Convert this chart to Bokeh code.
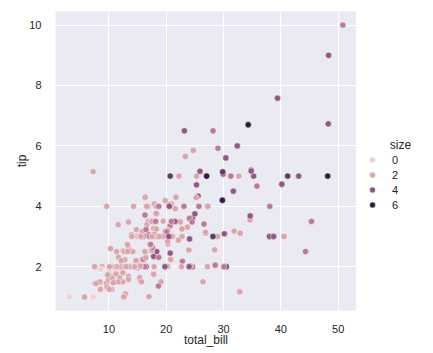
import numpy as np
from bokeh.plotting import figure
from bokeh.layouts import row
from bokeh.models import ColumnDataSource, Range1d, Legend, LegendItem, FixedTicker, Label
from bokeh.transform import linear_cmap
from bokeh.embed import file_html
from bokeh.resources import INLINE

total_bill = [16.99,10.34,21.01,23.68,24.59,25.29,8.77,26.88,15.04,14.78,10.27,35.26,15.42,18.43,14.83,21.58,10.33,16.29,16.97,20.65,
17.92,20.29,15.77,39.42,19.82,17.81,13.37,12.69,21.7,19.65,9.55,18.35,15.06,20.69,17.78,24.06,16.31,16.93,18.69,31.27,
16.04,17.46,13.94,9.68,30.4,18.29,22.23,32.4,28.55,18.04,12.54,10.29,34.81,9.94,25.56,19.49,38.01,26.41,11.24,48.27,
20.29,13.81,11.02,18.29,17.59,20.08,16.45,3.07,20.23,15.01,12.02,17.07,26.86,25.28,14.73,10.51,17.92,27.2,22.76,17.29,
19.44,16.66,10.07,32.68,15.98,34.83,13.03,18.28,24.71,21.16,28.97,22.49,5.75,16.32,22.75,40.17,27.28,12.03,21.01,12.46,
11.35,15.38,44.3,22.42,20.92,15.36,20.49,25.21,18.24,14.31,14.0,7.25,38.07,23.95,25.71,17.31,29.93,10.65,12.43,24.08,
11.69,13.42,14.26,15.95,12.48,29.8,8.52,14.52,11.38,22.82,19.08,20.27,11.17,12.26,18.26,8.51,10.33,14.15,16.0,13.16,
17.47,34.3,41.19,27.05,16.43,8.35,18.64,11.87,9.78,7.51,14.07,13.13,17.26,24.55,19.77,29.85,48.17,25.0,13.39,16.49,
21.5,12.66,16.21,13.81,17.51,24.52,20.76,31.71,10.59,10.63,50.81,15.81,7.25,31.85,16.82,32.9,17.89,14.48,9.6,34.63,
34.65,23.33,45.35,23.17,40.55,20.69,20.9,30.46,18.15,23.1,15.69,19.81,28.44,15.48,16.58,7.56,10.34,43.11,13.0,13.51,
18.71,12.74,13.0,16.4,20.53,16.47,26.59,38.73,24.27,12.76,30.06,25.89,48.33,13.27,28.17,12.9,28.15,11.59,7.74,30.14,
12.16,13.42,8.58,15.98,13.42,16.27,10.09,20.45,13.28,22.12,24.01,15.69,11.61,10.77,15.53,10.07,12.6,32.83,35.83,29.03,
27.18,22.67,17.82,18.78]

tip = [1.01,1.66,3.5,3.31,3.61,4.71,2.0,3.12,1.96,3.23,1.71,5.0,1.57,3.0,3.02,3.92,1.67,3.71,3.5,3.35,
4.08,2.75,2.23,7.58,3.18,2.34,2.0,2.0,4.3,3.0,1.45,2.5,3.0,2.45,3.27,3.6,2.0,3.07,2.31,5.0,
2.24,2.54,3.06,1.32,5.6,3.0,5.0,6.0,2.05,3.0,2.5,2.6,5.2,1.56,4.34,3.51,3.0,1.5,1.76,6.73,
3.21,2.0,1.98,3.76,2.64,3.15,2.47,1.0,2.01,2.09,1.97,3.0,3.14,5.0,2.2,1.25,3.08,4.0,3.0,2.71,
3.0,3.4,1.83,5.0,2.03,5.17,2.0,4.0,5.85,3.0,3.0,3.5,1.0,4.3,3.25,4.73,4.0,1.5,3.0,1.5,
2.5,3.0,2.5,3.48,4.08,1.64,4.06,4.29,3.76,4.0,3.0,1.0,4.0,2.55,4.0,3.5,5.07,1.5,1.8,2.92,
2.31,1.68,2.5,2.0,2.52,4.2,1.48,2.0,2.0,2.18,1.5,2.83,1.5,2.0,3.25,1.25,2.0,2.0,2.0,2.75,
3.5,6.7,5.0,5.0,2.3,1.5,1.36,1.63,1.73,2.0,2.5,2.0,2.74,2.0,2.0,5.14,5.0,3.75,2.61,2.0,
3.5,2.5,2.0,2.0,3.0,3.48,2.24,4.5,1.61,2.0,10.0,3.16,5.15,3.18,4.0,3.11,2.0,2.0,4.0,3.55,
3.68,5.65,3.5,6.5,3.0,5.0,3.5,2.0,3.5,4.0,1.5,4.19,2.56,2.02,4.0,1.44,2.0,5.0,2.0,2.0,
4.0,2.01,2.0,2.5,4.0,3.23,3.41,3.0,2.03,2.23,2.0,5.16,9.0,2.5,6.5,1.1,3.0,1.5,1.44,3.09,
2.2,3.48,1.92,3.0,1.58,2.5,2.0,3.0,2.72,2.88,2.0,3.0,3.39,1.47,3.0,1.25,1.0,1.17,4.67,5.92,
2.0,2.0,1.75,3.0]

size = [2,3,3,2,4,4,2,4,2,2,2,4,2,4,2,2,3,3,3,3,
2,2,2,4,2,4,2,2,2,2,2,4,2,4,2,3,3,3,3,3,
3,2,2,2,4,2,2,4,3,2,2,2,4,2,4,2,4,2,2,4,
2,2,2,4,3,3,2,1,2,2,2,3,2,2,2,2,2,4,2,2,
2,2,1,2,2,4,2,2,2,2,2,2,2,2,2,4,2,2,2,2,
2,2,3,2,2,2,2,2,2,2,2,1,3,2,3,2,4,2,2,4,
2,2,2,2,2,6,2,2,2,3,2,2,2,2,2,2,2,2,2,2,
2,6,5,6,2,2,3,2,2,2,2,2,3,4,4,5,6,4,2,4,
4,2,3,2,2,3,2,4,2,2,3,2,2,2,2,2,2,2,2,2,
4,2,3,4,2,5,3,5,3,3,2,2,2,2,2,2,2,4,2,2,
3,2,2,2,4,3,3,4,2,2,3,4,4,2,3,2,5,2,2,4,
2,2,1,3,2,2,2,4,2,2,4,3,2,2,2,2,2,2,3,3,
2,2,2,2]

legend_values = [0, 2, 4, 6]


# seaborn default cubehelix colormap (start=0, rot=.4, hue=.8, light=.85, dark=.15)
def cubehelix(x, gamma=1.0, start=0.0, rot=0.4, hue=0.8):
    xg = x ** gamma
    a = hue * xg * (1 - xg) / 2
    phi = 2 * np.pi * (start / 3 + rot * x)
    r = xg + a * (-0.14861 * np.cos(phi) + 1.78277 * np.sin(phi))
    g = xg + a * (-0.29227 * np.cos(phi) - 0.90649 * np.sin(phi))
    b = xg + a * (1.97294 * np.cos(phi))
    return np.clip([r, g, b], 0, 1)


palette = []
for t in np.linspace(0.85, 0.15, 256):
    r, g, b = cubehelix(t)
    palette.append("#%02x%02x%02x" % (int(round(r * 255)), int(round(g * 255)), int(round(b * 255))))

lo, hi = min(size), max(size)
mapper = linear_cmap("size", palette, lo, hi)

source = ColumnDataSource(dict(total_bill=total_bill, tip=tip, size=size))

xmin, xmax = min(total_bill), max(total_bill)
ymin, ymax = min(tip), max(tip)
xm = (xmax - xmin) * 0.05
ym = (ymax - ymin) * 0.05

FONT = "Liberation Sans"
TXT = "#262626"

p = figure(width=356, height=353, output_backend="svg", toolbar_location=None,
           x_range=Range1d(xmin - xm, xmax + xm), y_range=Range1d(ymin - ym, ymax + ym),
           min_border_left=55, min_border_right=0, min_border_top=11, min_border_bottom=43)
p.background_fill_color = "#EAEAF2"
p.border_fill_color = "white"
p.outline_line_color = None

for ax in (p.xaxis[0], p.yaxis[0]):
    ax.axis_line_color = None
    ax.major_tick_line_color = None
    ax.minor_tick_line_color = None
    ax.major_label_text_font = FONT
    ax.major_label_text_font_size = "11px"
    ax.major_label_text_color = TXT
    ax.axis_label_text_font = FONT
    ax.axis_label_text_font_size = "12px"
    ax.axis_label_text_font_style = "normal"
    ax.axis_label_text_color = TXT

p.xaxis.ticker = FixedTicker(ticks=[10, 20, 30, 40, 50])
p.yaxis.ticker = FixedTicker(ticks=[2, 4, 6, 8, 10])
p.xaxis.axis_label = "total_bill"
p.yaxis.axis_label = "tip"
p.xaxis.major_label_standoff = 8
p.yaxis.major_label_standoff = 8
p.xaxis.axis_label_standoff = -3
p.yaxis.axis_label_standoff = -3

p.xgrid.grid_line_color = "white"
p.ygrid.grid_line_color = "white"
p.xgrid.grid_line_width = 1
p.ygrid.grid_line_width = 1

p.scatter("total_bill", "tip", source=source, size=6.3, fill_color=mapper,
          line_color="white", line_width=0.5)

# legend panel (its frame is aligned with the main frame: 299 px tall)
q = figure(width=77, height=353, output_backend="svg", toolbar_location=None,
           x_axis_type=None, y_axis_type=None,
           x_range=Range1d(0, 77), y_range=Range1d(0, 299),
           min_border_left=0, min_border_right=0, min_border_top=11, min_border_bottom=43)
q.background_fill_color = "white"
q.border_fill_color = "white"
q.outline_line_color = None

nan = float("nan")
items = []
for v in legend_values:
    frac = min(max((v - lo) / (hi - lo), 0), 1)
    col = palette[min(int(frac * 256), 255)]
    r = q.scatter(x=[nan], y=[nan], size=6.3, fill_color=col, line_color="white", line_width=0.5)
    items.append(LegendItem(label=str(v), renderers=[r]))

legend = Legend(items=items, location=(7, 98), padding=0, margin=0, spacing=0,
                glyph_width=18, glyph_height=15, label_height=15, label_standoff=11,
                label_text_font=FONT, label_text_font_size="11px", label_text_color=TXT,
                border_line_color=None, background_fill_alpha=0)
q.add_layout(legend)

q.add_layout(Label(x=44, y=166, text="size", text_font=FONT, text_font_size="12px",
                   text_color=TXT, text_align="center", text_baseline="middle"))

layout = row(p, q, spacing=0)
open("out.html", "w").write(file_html(layout, INLINE))
